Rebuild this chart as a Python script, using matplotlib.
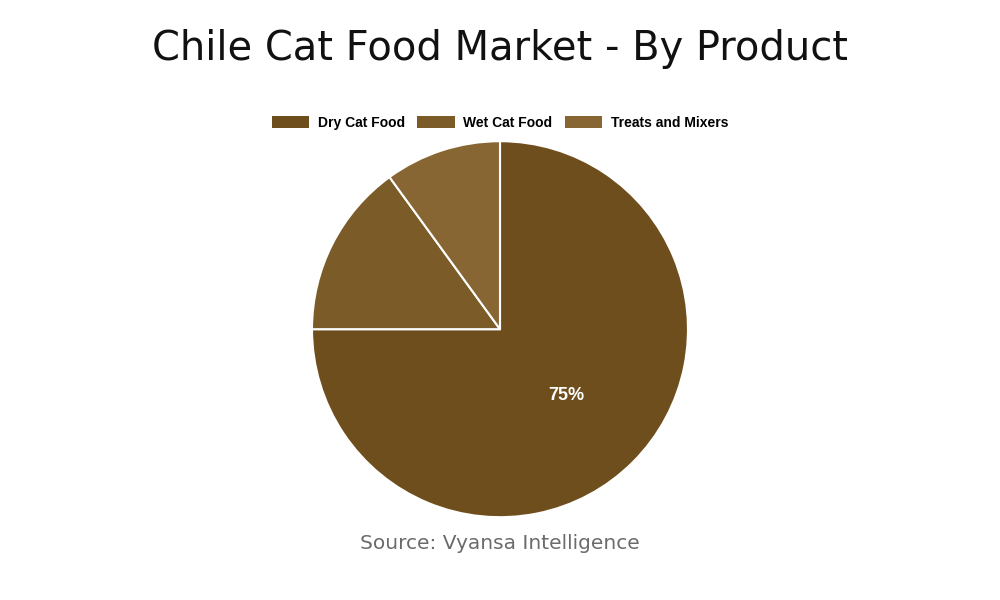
import matplotlib
matplotlib.use("Agg")
import matplotlib.pyplot as plt
from matplotlib.patches import Patch

categories = ["Dry Cat Food", "Wet Cat Food", "Treats and Mixers"]
shares = [75, 15, 10]
colors = ["#6f4e1e", "#7b5b28", "#876633"]

fig = plt.figure(figsize=(10, 6), dpi=100)
ax = fig.add_axes([0.312, 0.138, 0.376, 0.6267])

wedges, _, autotexts = ax.pie(
    shares, colors=colors, startangle=90, counterclock=False,
    autopct=lambda p: f"{p:.0f}%" if p > 50 else "", pctdistance=0.5,
    wedgeprops=dict(edgecolor="white", linewidth=1.5),
    textprops=dict(color="white", fontsize=13, fontweight="bold",
                   family="Liberation Sans"),
)
ax.set_xlim(-1, 1); ax.set_ylim(-1, 1)
ax.set_aspect("equal")

fig.text(0.5, 0.918, "Chile Cat Food Market - By Product", ha="center", va="center",
         fontsize=28.8, family="DejaVu Sans", color="#111111")
fig.text(0.5, 0.094, "Source: Vyansa Intelligence", ha="center", va="center",
         fontsize=14.5, family="DejaVu Sans", color="#6b6b6b")

handles = [Patch(facecolor=c, edgecolor="none") for c in colors]
fig.legend(handles, categories, loc="center", bbox_to_anchor=(0.5, 0.795), ncol=3,
           frameon=False, handlelength=2.7, handleheight=0.9, columnspacing=0.9,
           handletextpad=0.6,
           prop=dict(family="Liberation Sans", weight="bold", size=10))

fig.savefig("out.png", dpi=100)
